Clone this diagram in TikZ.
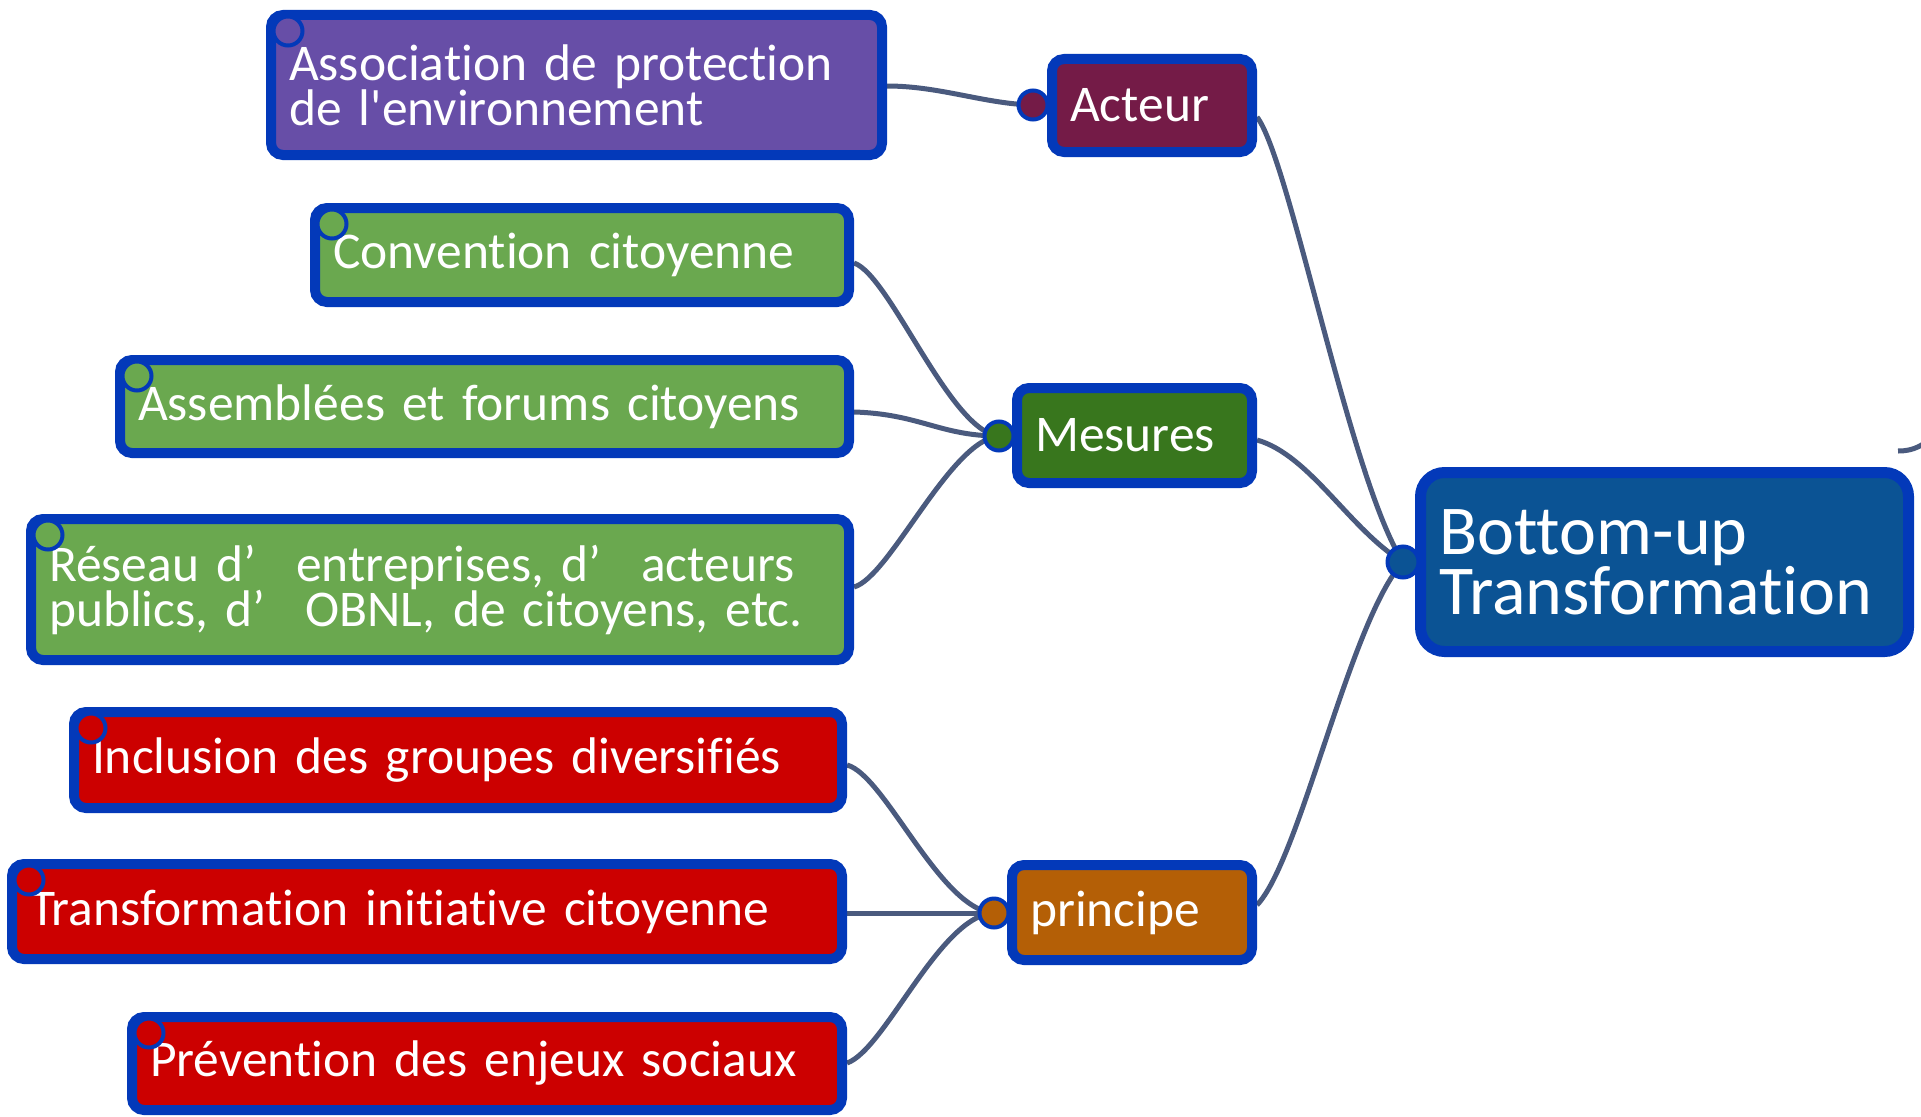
\documentclass[tikz,border=0pt]{standalone}
\usepackage{fontspec}
\setmainfont[Ligatures={NoCommon}]{Carlito}
\definecolor{edgeblue}{HTML}{0339B9}
\definecolor{linkgray}{HTML}{4A5A7E}
\definecolor{purplefill}{HTML}{674EA7}
\definecolor{winefill}{HTML}{741B47}
\definecolor{leafgreen}{HTML}{6AA84F}
\definecolor{darkgreen}{HTML}{38761D}
\definecolor{leafred}{HTML}{CC0000}
\definecolor{ochre}{HTML}{B45F06}
\definecolor{rootblue}{HTML}{0B5394}
\pgfdeclarelayer{links}
\pgfsetlayers{links,main}
\newcommand{\leaffont}{\fontsize{51.5}{45}\selectfont\fontdimen2\font=5pt\relax}
\newcommand{\rootfont}{\fontsize{70}{60}\selectfont}
\begin{document}
\begin{tikzpicture}[x=1pt,y=-1pt,
  box/.style={draw=edgeblue, line width=10pt, rounded corners=12pt, text=white,
    align=left, inner xsep=18pt, inner ysep=0pt, font=\leaffont},
  dot/.style={circle, draw=edgeblue, line width=4pt, minimum size=29pt, inner sep=0pt},
  link/.style={draw=linkgray, line width=5pt},
]
\useasboundingbox (0,0) rectangle (1921,1116);
\clip (0,0) rectangle (1921,1116);

% root
\node[box, fill=rootblue, line width=11pt, rounded corners=24pt, inner xsep=19pt,
  font=\rootfont, minimum width=488pt, minimum height=179pt, text width=450pt]
  (root) at (1664.5,562) {Bottom-up\\Transformation};
\node[dot, fill=rootblue, minimum size=31pt] (rootdot) at (1403,562) {};

% second level
\node[box, fill=winefill, minimum width=200pt, minimum height=93pt, text width=164pt]
  (acteur) at (1152,105.5) {Acteur};
\node[dot, fill=winefill] (actdot) at (1033,105) {};
\node[box, fill=darkgreen, minimum width=235pt, minimum height=95pt, text width=199pt]
  (mesures) at (1134.5,435.5) {Mesures};
\node[dot, fill=darkgreen] (mesdot) at (999,436) {};
\node[box, fill=ochre, minimum width=240pt, minimum height=95pt, text width=204pt]
  (princ) at (1132,912.5) {principe};
\node[dot, fill=ochre] (prdot) at (994,913) {};

% leaves
\node[box, fill=purplefill, minimum width=611pt, minimum height=140pt, text width=575pt]
  (assoc) at (576.5,85) {Association de protection\\de l\textquotesingle environnement};
\node[dot, fill=purplefill] (assocdot) at (288,31) {};

\node[box, fill=leafgreen, minimum width=534pt, minimum height=94pt, text width=498pt]
  (conv) at (582,255) {Convention citoyenne};
\node[dot, fill=leafgreen] (convdot) at (332,224) {};
\node[box, fill=leafgreen, minimum width=729pt, minimum height=93pt, text width=693pt]
  (assem) at (484.5,406.5) {Assemblées et forums citoyens};
\node[dot, fill=leafgreen] (assemdot) at (137,376) {};
\node[box, fill=leafgreen, minimum width=818pt, minimum height=141pt, text width=782pt]
  (reseau) at (440,589.5)
  {Réseau d’\hspace{40pt}entreprises, d’\hspace{40pt}acteurs\\publics, d’\hspace{40pt}OBNL, de citoyens, etc.};
\node[dot, fill=leafgreen] (reseaudot) at (48,535) {};

\node[box, fill=leafred, minimum width=768pt, minimum height=96pt, text width=732pt]
  (incl) at (458,760) {Inclusion des groupes diversifiés};
\node[dot, fill=leafred] (incldot) at (91,728) {};
\node[box, fill=leafred, minimum width=830pt, minimum height=95pt, text width=794pt]
  (transf) at (427,911.5) {Transformation initiative citoyenne};
\node[dot, fill=leafred] (transfdot) at (29,880) {};
\node[box, fill=leafred, minimum width=710pt, minimum height=93pt, text width=674pt]
  (prev) at (487,1063.5) {Prévention des enjeux sociaux};
\node[dot, fill=leafred] (prevdot) at (149,1033) {};

\coordinate (rootexit) at (1898,451);
\coordinate (offright) at (1935,436);

\begin{pgfonlayer}{links}
  \draw[link] ([yshift=-1pt]assoc.east) .. controls (940,86) and (985,104) .. (actdot.center);
  \draw[link] ([yshift=-8pt]conv.east) .. controls (890,275) and (950,432) .. (mesdot.center);
  \draw[link] ([yshift=-5.5pt]assem.east) .. controls (920,414) and (940,436) .. (mesdot.center);
  \draw[link] ([yshift=2.5pt]reseau.east) .. controls (890,577) and (950,440) .. (mesdot.center);
  \draw[link] ([yshift=-5pt]incl.east) .. controls (885,775) and (940,910) .. (prdot.center);
  \draw[link] ([yshift=-1.5pt]transf.east) -- (prdot.center);
  \draw[link] ([yshift=0.5pt]prev.east) .. controls (885,1050) and (940,915) .. (prdot.center);
  \draw[link] ([yshift=-11.5pt]acteur.east) .. controls (1290,160) and (1350,480) .. (rootdot.center);
  \draw[link] ([yshift=-4.5pt]mesures.east) .. controls (1310,455) and (1350,530) .. (rootdot.center);
  \draw[link] ([yshift=7.5pt]princ.east) .. controls (1300,860) and (1350,620) .. (rootdot.center);
  \draw[link] (rootexit) .. controls (1915,451) and (1922,445) .. (offright);
\end{pgfonlayer}
\end{tikzpicture}
\end{document}
